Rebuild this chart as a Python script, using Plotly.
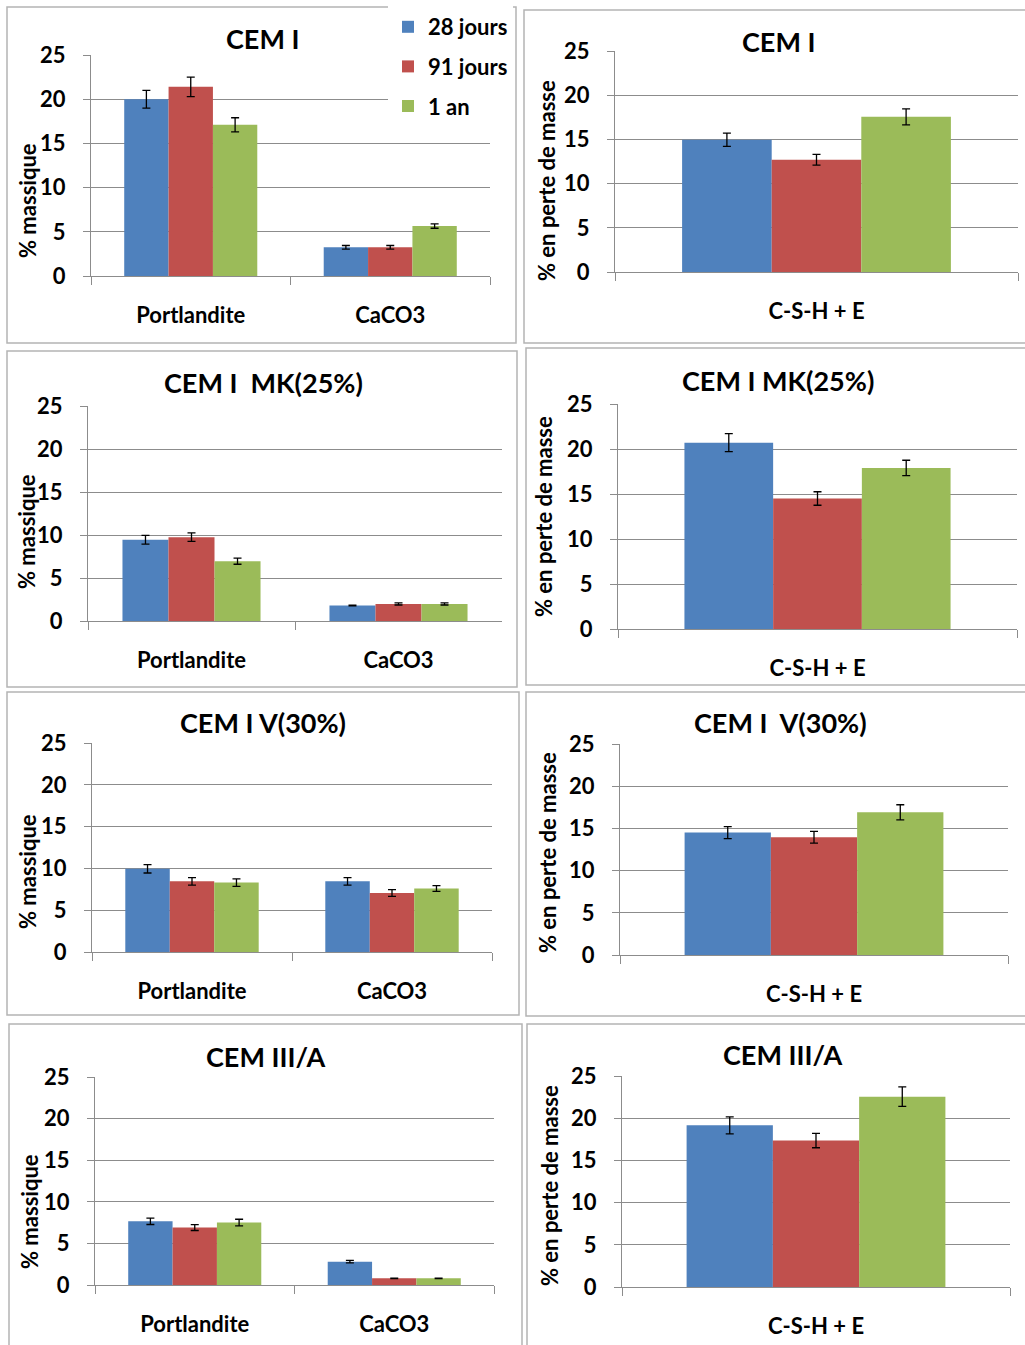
import plotly.graph_objects as go

W, H = 1025, 1345

series_names = ["28 jours", "91 jours", "1 an"]
series_colors = ["#4F81BD", "#C0504D", "#9BBB59"]

cats_mass = ["Portlandite", "CaCO3"]
cats_loss = ["C-S-H + E"]

titles_mass = ["CEM I", "CEM I\u00a0 MK(25%)", "CEM I V(30%)", "CEM III/A"]
titles_loss = ["CEM I", "CEM I MK(25%)", "CEM I\u00a0 V(30%)", "CEM III/A"]

ytitle_mass = "% massique"
ytitle_loss = "% en perte de masse"

y_ticks = [0, 5, 10, 15, 20, 25]

# CEM I - % massique
cemI_mass_28 = [20.0, 3.25]
cemI_mass_91 = [21.4, 3.25]
cemI_mass_1an = [17.1, 5.65]
cemI_mass_err_28 = [1.0, 0.2]
cemI_mass_err_91 = [1.1, 0.2]
cemI_mass_err_1an = [0.8, 0.25]
# CEM I - perte de masse
cemI_loss_28 = [14.95]
cemI_loss_91 = [12.7]
cemI_loss_1an = [17.55]
cemI_loss_err_28 = [0.75]
cemI_loss_err_91 = [0.6]
cemI_loss_err_1an = [0.9]

# CEM I MK(25%)
mk_mass_28 = [9.45, 1.8]
mk_mass_91 = [9.75, 1.98]
mk_mass_1an = [6.95, 1.98]
mk_mass_err_28 = [0.5, 0.05]
mk_mass_err_91 = [0.5, 0.12]
mk_mass_err_1an = [0.35, 0.12]
mk_loss_28 = [20.7]
mk_loss_91 = [14.5]
mk_loss_1an = [17.9]
mk_loss_err_28 = [1.0]
mk_loss_err_91 = [0.75]
mk_loss_err_1an = [0.85]

# CEM I V(30%)
v_mass_28 = [9.95, 8.45]
v_mass_91 = [8.45, 7.05]
v_mass_1an = [8.3, 7.6]
v_mass_err_28 = [0.5, 0.45]
v_mass_err_91 = [0.45, 0.4]
v_mass_err_1an = [0.45, 0.35]
v_loss_28 = [14.5]
v_loss_91 = [13.95]
v_loss_1an = [16.9]
v_loss_err_28 = [0.7]
v_loss_err_91 = [0.7]
v_loss_err_1an = [0.9]

# CEM III/A
c3_mass_28 = [7.65, 2.8]
c3_mass_91 = [6.9, 0.8]
c3_mass_1an = [7.5, 0.8]
c3_mass_err_28 = [0.38, 0.15]
c3_mass_err_91 = [0.35, 0.03]
c3_mass_err_1an = [0.4, 0.03]
c3_loss_28 = [19.15]
c3_loss_91 = [17.35]
c3_loss_1an = [22.55]
c3_loss_err_28 = [1.0]
c3_loss_err_91 = [0.85]
c3_loss_err_1an = [1.15]

FONT = "Lato"
GRID = "#8C8C8C"
BOX = "#B4B4B4"

panels = [
    dict(cats=cats_mass, title=titles_mass[0], ytitle=ytitle_mass,
         vals=[cemI_mass_28, cemI_mass_91, cemI_mass_1an],
         errs=[cemI_mass_err_28, cemI_mass_err_91, cemI_mass_err_1an],
         px=(91, 490), py=(55, 276), box=(7, 7, 516, 343), tpos=(262, 38), ypos=(27, 201)),
    dict(cats=cats_loss, title=titles_loss[0], ytitle=ytitle_loss,
         vals=[cemI_loss_28, cemI_loss_91, cemI_loss_1an],
         errs=[cemI_loss_err_28, cemI_loss_err_91, cemI_loss_err_1an],
         px=(615, 1018), py=(51, 272), box=(524, 10, 1030, 343), tpos=(778, 41), ypos=(546, 181)),
    dict(cats=cats_mass, title=titles_mass[1], ytitle=ytitle_mass,
         vals=[mk_mass_28, mk_mass_91, mk_mass_1an],
         errs=[mk_mass_err_28, mk_mass_err_91, mk_mass_err_1an],
         px=(88, 502), py=(406, 621), box=(7, 351, 517, 687), tpos=(263, 382), ypos=(26, 532)),
    dict(cats=cats_loss, title=titles_loss[1], ytitle=ytitle_loss,
         vals=[mk_loss_28, mk_loss_91, mk_loss_1an],
         errs=[mk_loss_err_28, mk_loss_err_91, mk_loss_err_1an],
         px=(618, 1017), py=(404, 629), box=(526, 348, 1030, 685), tpos=(778, 380), ypos=(543, 517)),
    dict(cats=cats_mass, title=titles_mass[2], ytitle=ytitle_mass,
         vals=[v_mass_28, v_mass_91, v_mass_1an],
         errs=[v_mass_err_28, v_mass_err_91, v_mass_err_1an],
         px=(92, 492), py=(743, 952), box=(7, 692, 519, 1015), tpos=(263, 722), ypos=(27, 872)),
    dict(cats=cats_loss, title=titles_loss[2], ytitle=ytitle_loss,
         vals=[v_loss_28, v_loss_91, v_loss_1an],
         errs=[v_loss_err_28, v_loss_err_91, v_loss_err_1an],
         px=(620, 1008), py=(744, 955), box=(526, 692, 1030, 1016), tpos=(780, 722), ypos=(547, 853)),
    dict(cats=cats_mass, title=titles_mass[3], ytitle=ytitle_mass,
         vals=[c3_mass_28, c3_mass_91, c3_mass_1an],
         errs=[c3_mass_err_28, c3_mass_err_91, c3_mass_err_1an],
         px=(95, 494), py=(1077, 1285), box=(9, 1024, 522, 1350), tpos=(265, 1056), ypos=(29, 1212)),
    dict(cats=cats_loss, title=titles_loss[3], ytitle=ytitle_loss,
         vals=[c3_loss_28, c3_loss_91, c3_loss_1an],
         errs=[c3_loss_err_28, c3_loss_err_91, c3_loss_err_1an],
         px=(622, 1010), py=(1076, 1287), box=(527, 1024, 1030, 1350), tpos=(782, 1054), ypos=(549, 1186)),
]


def fx(p):
    return p / W


def fy(p):
    return 1 - p / H


fig = go.Figure()
layout = dict(
    width=W, height=H, autosize=False,
    margin=dict(l=0, r=0, t=0, b=0, pad=0, autoexpand=False),
    paper_bgcolor="white", plot_bgcolor="white",
    barmode="group", bargap=0.333, bargroupgap=0,
    font=dict(family=FONT, color="black"),
    showlegend=True,
    legend=dict(x=fx(388), y=fy(6), xanchor="left", yanchor="top",
                bgcolor="white", font=dict(family=FONT, size=22, weight="bold", color="black"),
                tracegroupgap=8, itemwidth=30),
)
annotations = []
shapes = []

for i, p in enumerate(panels, start=1):
    sfx = "" if i == 1 else str(i)
    xa, ya = "x" + sfx, "y" + sfx
    for k in range(3):
        fig.add_trace(go.Bar(
            x=p["cats"], y=p["vals"][k], name=series_names[k],
            marker=dict(color=series_colors[k], line=dict(width=0)),
            error_y=dict(type="data", array=p["errs"][k], color="black", thickness=1.3, width=4),
            xaxis=xa, yaxis=ya, showlegend=(i == 1), legendgroup=series_names[k],
            hoverinfo="skip",
        ))
    layout["xaxis" + sfx] = dict(
        domain=[fx(p["px"][0]), fx(p["px"][1])], anchor=ya, type="category",
        range=[-0.5, len(p["cats"]) - 0.5], automargin=False, fixedrange=True,
        showline=True, linecolor=GRID, linewidth=1,
        ticks="outside", tickson="boundaries", ticklen=8, tickcolor=GRID,
        showgrid=False, ticklabelstandoff=20,
        tickfont=dict(family=FONT, size=22, weight="bold", color="black"),
    )
    layout["yaxis" + sfx] = dict(
        domain=[fy(p["py"][1]), fy(p["py"][0])], anchor=xa,
        range=[0, 25], tickvals=y_ticks, automargin=False, fixedrange=True,
        showline=True, linecolor=GRID, linewidth=1,
        showgrid=True, gridcolor=GRID, gridwidth=1, zeroline=False,
        ticks="outside", ticklen=7, tickcolor=GRID, ticklabelstandoff=13,
        tickfont=dict(family=FONT, size=22, weight="bold", color="black"),
    )
    annotations.append(dict(
        text=p["title"], x=fx(p["tpos"][0]), y=fy(p["tpos"][1]), xref="paper", yref="paper",
        xanchor="center", yanchor="middle", showarrow=False,
        font=dict(family=FONT, size=27, weight="bold", color="black"),
    ))
    annotations.append(dict(
        text=p["ytitle"], x=fx(p["ypos"][0]), y=fy(p["ypos"][1]), xref="paper", yref="paper",
        xanchor="center", yanchor="middle", showarrow=False, textangle=-90,
        font=dict(family=FONT, size=22, weight="bold", color="black"),
    ))
    b = p["box"]
    shapes.append(dict(
        type="rect", xref="paper", yref="paper",
        x0=fx(b[0]), x1=fx(b[2]), y0=fy(b[3]), y1=fy(b[1]),
        line=dict(color=BOX, width=1.5), fillcolor="rgba(0,0,0,0)", layer="below",
    ))

layout["annotations"] = annotations
layout["shapes"] = shapes
fig.update_layout(**layout)

fig.write_html("out.html", config={"displayModeBar": False},
               post_script="document.body.style.margin='0px';")
